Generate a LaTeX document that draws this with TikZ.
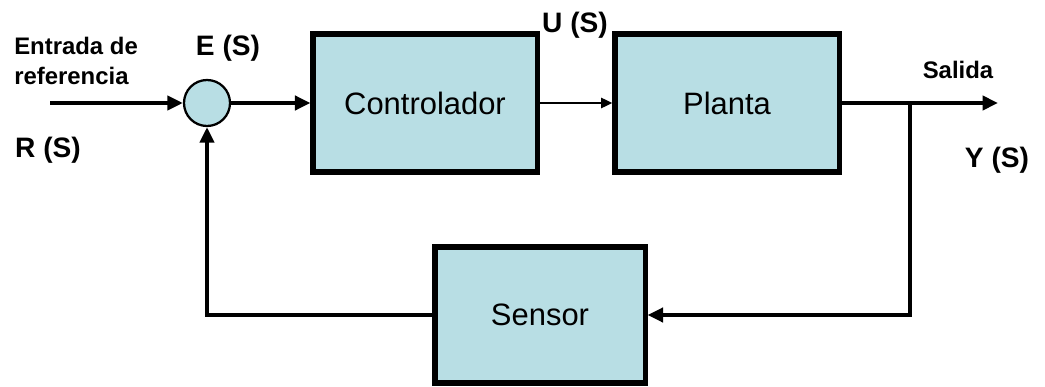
\documentclass[tikz,border=0pt]{standalone}
\usepackage{fontspec}
\setmainfont{Liberation Sans}
\usetikzlibrary{arrows.meta}
\definecolor{azulbloque}{RGB}{184,222,228}
\tikzset{
  bloque/.style={draw, line width=3.6pt, fill=azulbloque, font=\fontsize{22}{26}\selectfont,
    minimum width=5.6cm, minimum height=3.45cm},
  senal/.style={line width=3pt, -{Triangle[length=11pt,width=10pt]}},
  etiqueta/.style={font=\bfseries\fontsize{17}{21}\selectfont, inner sep=0pt},
  nomsenal/.style={font=\bfseries\fontsize{20}{24}\selectfont, inner sep=0pt},
}

\begin{document}
\begin{tikzpicture}[x=0.025cm, y=-0.025cm]
  \useasboundingbox (0,0) rectangle (1045,387);
  % bloques
  \node[circle, draw, line width=1.6pt, fill=azulbloque, minimum size=1.15cm] (suma) at (207,103) {};
  \node[bloque] (control) at (425,103) {Controlador};
  \node[bloque] (planta) at (727,103) {Planta};
  \node[bloque, minimum width=5.25cm, minimum height=3.4cm] (sensor) at (540,315) {Sensor};
  \coordinate (entrada) at (50,103);
  \coordinate (salida) at (998,103);
  \coordinate (rama) at (910,103);
  % senales
  \draw[senal] (entrada) -- (suma);
  \draw[senal] (suma) -- (control);
  \draw[senal, line width=2pt, -{Triangle[length=8pt,width=7pt]}] (control) -- (planta);
  \draw[senal] (planta) -- (salida);
  \draw[senal] (rama) |- (sensor);
  \draw[senal] (sensor) -| (suma);
  % etiquetas
  \node[etiqueta, align=left, anchor=north west] (txtentrada) at (14,37) {Entrada de\\referencia};
  \node[nomsenal] (txtr) at (48,150) {R (S)};
  \node[nomsenal] (txte) at (228,48) {E (S)};
  \node[nomsenal] (txtu) at (575,25) {U (S)};
  \node[etiqueta] (txtsalida) at (958,70) {Salida};
  \node[nomsenal] (txty) at (997,160) {Y (S)};
\end{tikzpicture}
\end{document}
